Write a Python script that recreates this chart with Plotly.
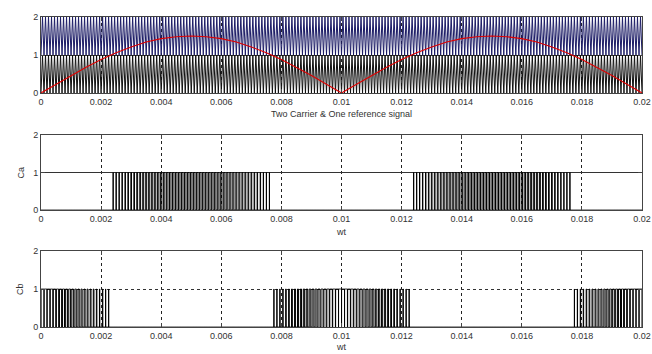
import numpy as np
import plotly.graph_objects as go
from plotly.subplots import make_subplots

# ---- data ----
t_start, t_end = 0.0, 0.02
# reference signal (red), sampled every 0.0005 s
ref_time = [round(0.0005 * k, 4) for k in range(41)]
ref_values = [0, 0.23, 0.46, 0.68, 0.88, 1.06, 1.21, 1.34, 1.43, 1.48, 1.5,
              1.48, 1.43, 1.34, 1.21, 1.06, 0.88, 0.68, 0.46, 0.23, 0,
              0.23, 0.46, 0.68, 0.88, 1.06, 1.21, 1.34, 1.43, 1.48, 1.5,
              1.48, 1.43, 1.34, 1.21, 1.06, 0.88, 0.68, 0.46, 0.23, 0]
# carriers: triangle between low and high level, repeated
carrier_cycles = 200
lower_carrier_levels = [0.0, 1.0]
upper_carrier_levels = [1.0, 2.0]
x_ticks = [0, 0.002, 0.004, 0.006, 0.008, 0.01, 0.012, 0.014, 0.016, 0.018, 0.02]
x_tick_labels = ["0", "0.002", "0.004", "0.006", "0.008", "0.01", "0.012", "0.014", "0.016", "0.018", "0.02"]
y_ticks = [0, 1, 2]
x_titles = ["Two Carrier & One reference signal", "wt", "wt"]
y_titles = ["", "Ca", "Cb"]

# ---- carriers (vertex lists) ----
n_vertices = 2 * carrier_cycles + 1
carrier_t = np.linspace(t_start, t_end, n_vertices)
lower_carrier = [lower_carrier_levels[i % 2] for i in range(n_vertices)]
upper_carrier = [upper_carrier_levels[i % 2] for i in range(n_vertices)]

# ---- switching signals by comparing reference with carriers ----
fine_t = np.linspace(t_start, t_end, carrier_cycles * 40 + 1)
ref_fine = np.interp(fine_t, ref_time, ref_values)
low_fine = np.interp(fine_t, carrier_t, lower_carrier)
up_fine = np.interp(fine_t, carrier_t, upper_carrier)
ca = (ref_fine > up_fine).astype(int)
cb = (low_fine > ref_fine).astype(int)

fig = make_subplots(rows=3, cols=1)

fig.add_trace(go.Scatter(x=carrier_t, y=upper_carrier, mode="lines",
                         line=dict(color="#1c1c66", width=1)), row=1, col=1)
fig.add_trace(go.Scatter(x=carrier_t, y=lower_carrier, mode="lines",
                         line=dict(color="#111111", width=1)), row=1, col=1)
fig.add_trace(go.Scatter(x=ref_time, y=ref_values, mode="lines",
                         line=dict(color="#e00000", width=1.1)), row=1, col=1)
fig.add_trace(go.Scatter(x=fine_t, y=ca, mode="lines", line_shape="hv",
                         line=dict(color="black", width=1)), row=2, col=1)
fig.add_trace(go.Scatter(x=fine_t, y=cb, mode="lines", line_shape="hv",
                         line=dict(color="black", width=1)), row=3, col=1)

W, H = 652, 354
xd = [41 / W, 642 / W]
px_rows = [(17, 93), (135, 210), (251, 327)]
domains = [(1 - b / H, 1 - t / H) for t, b in px_rows]
xtitle_y = [114, 232, 347]
ytitle_x = 20
font = dict(family="Liberation Sans, Arial, sans-serif", size=9, color="#333333")

ygrid = ["solid", "solid", "dot"]
for i in range(3):
    xa = "xaxis" if i == 0 else f"xaxis{i+1}"
    ya = "yaxis" if i == 0 else f"yaxis{i+1}"
    fig.layout[xa].update(domain=xd, range=[t_start, t_end], tickvals=x_ticks, ticktext=x_tick_labels,
                          showgrid=True, griddash="dot", gridcolor="#222222", gridwidth=1,
                          showline=True, linecolor="#444444", linewidth=1, mirror="ticks",
                          ticks="inside", ticklen=4, tickcolor="#444444", zeroline=False,
                          automargin=False, ticklabeloverflow="allow", tickfont=font)
    fig.layout[ya].update(domain=domains[i], range=[0, 2], tickvals=y_ticks,
                          showgrid=True, griddash=ygrid[i], gridcolor="#333333", gridwidth=1,
                          showline=True, linecolor="#444444", linewidth=1, mirror="ticks",
                          ticks="inside", ticklen=4, tickcolor="#444444", zeroline=False,
                          automargin=False, ticklabeloverflow="allow", tickfont=font)
    fig.add_annotation(text=x_titles[i], xref="paper", yref="paper",
                       x=(xd[0] + xd[1]) / 2, y=1 - xtitle_y[i] / H,
                       xanchor="center", yanchor="middle", showarrow=False, font=font)
    if y_titles[i]:
        fig.add_annotation(text=y_titles[i], xref="paper", yref="paper",
                           x=ytitle_x / W, y=sum(domains[i]) / 2, textangle=-90,
                           xanchor="center", yanchor="middle", showarrow=False, font=font)

fig.update_layout(width=W, height=H, margin=dict(l=0, r=0, t=0, b=0),
                  paper_bgcolor="white", plot_bgcolor="white", showlegend=False,
                  font=font)
fig.write_html("out.html", config={"displayModeBar": False},
               post_script="document.body.style.margin='0';")
